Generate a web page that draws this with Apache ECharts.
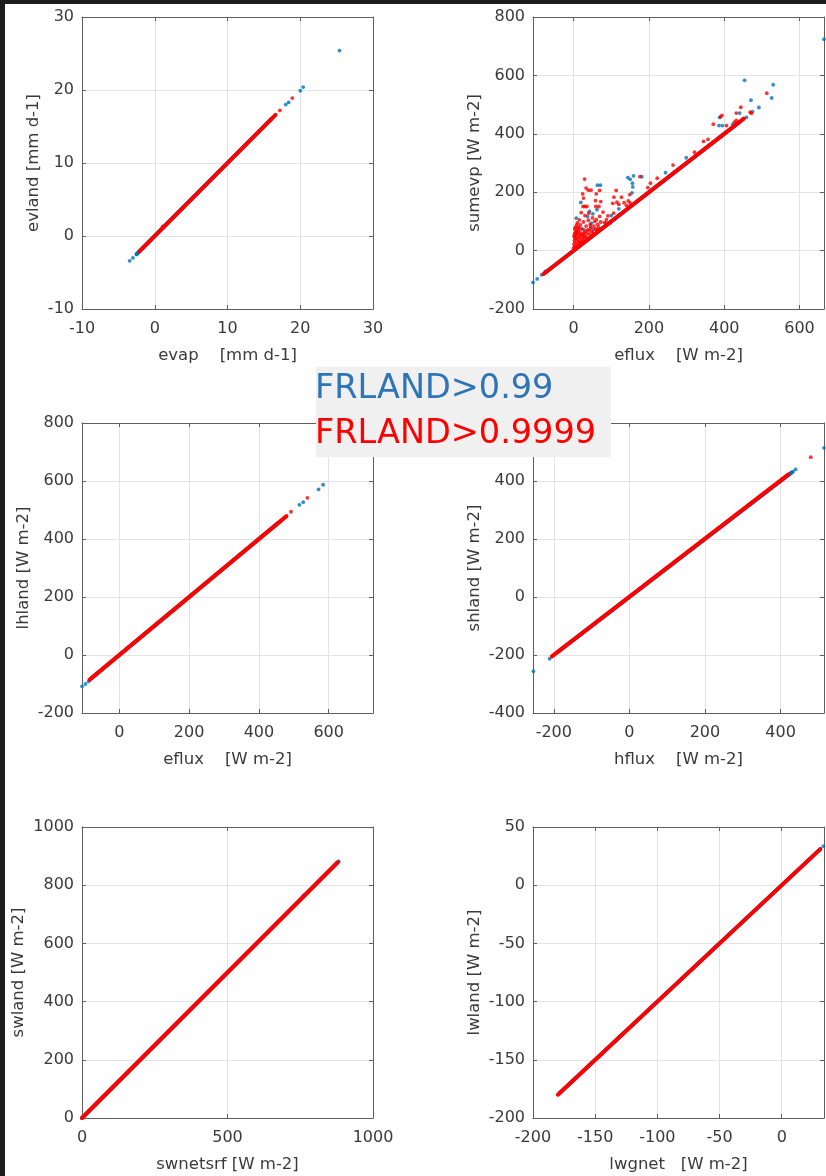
<!DOCTYPE html>
<html><head><meta charset="utf-8">
<script src="https://cdn.jsdelivr.net/npm/echarts@6/dist/echarts.min.js"></script>
<style>html,body{margin:0;padding:0;background:#fff;} #c{width:826px;height:1176px;}</style>
</head><body><div id="c"></div>
<script>
// ---------- data ----------
const seriesNames = ['FRLAND>0.99', 'FRLAND>0.9999'];

// Panel 1: evap vs evland
const p1XLabel = 'evap    [mm d-1]';
const p1YLabel = 'evland [mm d-1]';
const p1XRange = [-10, 30];
const p1YRange = [-10, 30];
const p1XTicks = [-10, 0, 10, 20, 30];
const p1YTicks = [-10, 0, 10, 20, 30];
const p1BlueBand = [[-2.5, -2.5], [16.0, 16.0]];
const p1BluePts = [[25.4, 25.4], [20.0, 19.9], [20.4, 20.4], [18.0, 18.0], [18.4, 18.3], [16.0, 16.0], [-3.45, -3.4], [-3.0, -3.0], [-2.4, -2.4]];
const p1RedBand = [[-2.1, -2.1], [16.6, 16.6]];
const p1RedPts = [[18.9, 18.9], [17.2, 17.2], [1.1, 1.3]];

// Panel 2: eflux vs sumevp
const p2XLabel = 'eflux    [W m-2]';
const p2YLabel = 'sumevp [W m-2]';
const p2XRange = [-108, 665];
const p2YRange = [-200, 800];
const p2XTicks = [0, 200, 400, 600];
const p2YTicks = [-200, 0, 200, 400, 600, 800];
const p2BlueBand = [[-75, -75], [440, 440]];
const p2BluePts = [[-108, -109], [-97, -97], [-85, -83], [-75, -71], [665, 724], [454, 583], [530, 568], [526, 523], [471, 515], [492, 490],
  [441, 471], [475, 476], [388, 456], [459, 456], [386, 428], [395, 428], [423, 433], [299, 318], [244, 267], [159, 256], [144, 250],
  [150, 244], [181, 253], [156, 231], [157, 218], [155, 198], [120, 143], [71, 224], [63, 224], [19, 165], [7, 111], [42, 134], [51, 126],
  [37, 117], [47, 94], [45, 83], [16, 77], [27, 72], [52, 72], [87, 94], [100, 120], [62, 140]];
const p2RedBand = [[-80, -80], [452, 452]];
const p2RedPts = [[29, 245], [264, 293], [222, 248], [204, 231], [197, 216], [176, 253], [113, 206], [149, 192], [107, 183], [127, 183],
  [134, 164], [120, 158], [140, 155], [24, 194], [26, 180], [60, 194], [69, 206], [33, 214], [39, 207], [46, 207], [58, 171], [72, 168],
  [25, 151], [30, 151], [35, 151], [59, 151], [67, 151], [104, 162], [115, 166], [78, 132], [91, 119], [106, 128], [69, 117], [60, 106],
  [87, 106], [96, 94], [145, 170], [150, 163], [513, 539], [444, 491], [432, 471], [469, 474], [472, 470], [394, 463], [390, 458], [371, 433],
  [406, 428], [427, 440], [432, 446], [345, 374], [357, 381], [321, 337],
  [0, 8], [1, 22], [2, 35], [1, 48], [3, 60], [3, 74], [6, 15], [7, 42], [8, 56], [9, 68], [12, 30], [12, 80], [14, 50], [17, 62], [18, 88],
  [20, 36], [22, 74], [24, 56], [26, 98], [28, 44], [31, 66], [33, 84], [36, 58], [39, 104], [41, 72], [44, 90], [48, 66], [50, 112],
  [54, 84], [30, 120], [15, 105], [40, 128], [56, 100], [64, 90], [72, 98], [82, 96], [20, 130], [10, 95],
  [2, 12], [4, 28], [5, 52], [6, 66], [10, 20], [10, 38], [11, 60], [15, 28], [16, 44], [19, 54], [21, 26], [23, 46], [25, 34], [27, 60],
  [29, 52], [34, 46], [37, 70], [43, 56], [46, 78], [52, 60], [58, 74], [62, 70], [66, 80], [5, 80], [8, 88], [13, 72], [2, 54], [4, 44]];

// Panel 3: eflux vs lhland
const p3XLabel = 'eflux    [W m-2]';
const p3YLabel = 'lhland [W m-2]';
const p3XRange = [-107, 727];
const p3YRange = [-200, 800];
const p3XTicks = [0, 200, 400, 600];
const p3YTicks = [-200, 0, 200, 400, 600, 800];
const p3BlueBand = [[-80, -80], [455, 455]];
const p3BluePts = [[584, 587], [571, 571], [527, 527], [516, 518], [-107, -108], [-97, -100], [-88, -91], [-75, -75], [448, 446], [460, 460]];
const p3RedBand = [[-85, -85], [479, 479]];
const p3RedPts = [[539, 542], [492, 494]];

// Panel 4: hflux vs shland
const p4XLabel = 'hflux    [W m-2]';
const p4YLabel = 'shland [W m-2]';
const p4XRange = [-255, 515];
const p4YRange = [-400, 600];
const p4XTicks = [-200, 0, 200, 400];
const p4YTicks = [-400, -200, 0, 200, 400, 600];
const p4BlueBand = [[-190, -190], [430, 430]];
const p4BluePts = [[515, 514], [440, 440], [433, 432], [-254, -256], [-211, -213], [-185, -185]];
const p4RedBand = [[-205, -205], [421, 423]];
const p4RedPts = [[480, 482]];

// Panel 5: swnetsrf vs swland
const p5XLabel = 'swnetsrf [W m-2]';
const p5YLabel = 'swland [W m-2]';
const p5XRange = [0, 1000];
const p5YRange = [0, 1000];
const p5XTicks = [0, 500, 1000];
const p5YTicks = [0, 200, 400, 600, 800, 1000];
const p5BlueBand = [[0, 0], [880, 880]];
const p5BluePts = [[761, 765], [800, 800], [882, 882]];
const p5RedBand = [[0, 0], [878, 878]];
const p5RedPts = [];

// Panel 6: lwgnet vs lwland
const p6XLabel = 'lwgnet   [W m-2]';
const p6YLabel = 'lwland [W m-2]';
const p6XRange = [-200, 34];
const p6YRange = [-200, 50];
const p6XTicks = [-200, -150, -100, -50, 0];
const p6YTicks = [-200, -150, -100, -50, 0, 50];
const p6BlueBand = [[-178, -178], [31, 31]];
const p6BluePts = [[33.5, 33.5]];
const p6RedBand = [[-180, -180], [31, 31]];
const p6RedPts = [];

// ---------- layout / style ----------
const BLUE = '#0072BD', RED = '#FF0000';
const FONT = 'DejaVu Sans';
const TXT = '#3a3a3a', AX = '#5e5e5e', GRIDC = '#e3e3e3';

const panels = [
  {grid: {left: 82, top: 17, width: 291, height: 292}, yGap: 40,
   xl: p1XLabel, yl: p1YLabel, xr: p1XRange, yr: p1YRange, xt: p1XTicks, yt: p1YTicks, bb: p1BlueBand, bp: p1BluePts, rb: p1RedBand, rp: p1RedPts},
  {grid: {left: 533, top: 17, width: 291, height: 292}, yGap: 50,
   xl: p2XLabel, yl: p2YLabel, xr: p2XRange, yr: p2YRange, xt: p2XTicks, yt: p2YTicks, bb: p2BlueBand, bp: p2BluePts, rb: p2RedBand, rp: p2RedPts},
  {grid: {left: 82, top: 423, width: 291, height: 290}, yGap: 50,
   xl: p3XLabel, yl: p3YLabel, xr: p3XRange, yr: p3YRange, xt: p3XTicks, yt: p3YTicks, bb: p3BlueBand, bp: p3BluePts, rb: p3RedBand, rp: p3RedPts},
  {grid: {left: 533, top: 423, width: 291, height: 290}, yGap: 50,
   xl: p4XLabel, yl: p4YLabel, xr: p4XRange, yr: p4YRange, xt: p4XTicks, yt: p4YTicks, bb: p4BlueBand, bp: p4BluePts, rb: p4RedBand, rp: p4RedPts},
  {grid: {left: 82, top: 827, width: 291, height: 291}, yGap: 55,
   xl: p5XLabel, yl: p5YLabel, xr: p5XRange, yr: p5YRange, xt: p5XTicks, yt: p5YTicks, bb: p5BlueBand, bp: p5BluePts, rb: p5RedBand, rp: p5RedPts},
  {grid: {left: 533, top: 827, width: 291, height: 291}, yGap: 50,
   xl: p6XLabel, yl: p6YLabel, xr: p6XRange, yr: p6YRange, xt: p6XTicks, yt: p6YTicks, bb: p6BlueBand, bp: p6BluePts, rb: p6RedBand, rp: p6RedPts}
];

const fmt = v => String(v);
const grids = [], xAxes = [], yAxes = [], series = [];
panels.forEach((p, i) => {
  grids.push(Object.assign({containLabel: false}, p.grid));
  const lineStyle = {color: AX, width: 1};
  const lab = {fontFamily: FONT, fontSize: 16, color: TXT, formatter: fmt};
  xAxes.push({type: 'value', gridIndex: i, position: 'bottom', min: p.xr[0], max: p.xr[1],
    name: p.xl, nameLocation: 'middle', nameGap: 38, nameTextStyle: {fontFamily: FONT, fontSize: 16.5, color: TXT},
    axisLine: {show: true, onZero: false, lineStyle},
    axisTick: {show: true, inside: true, length: 4, customValues: p.xt, lineStyle},
    axisLabel: Object.assign({customValues: p.xt, margin: 12}, lab),
    splitLine: {show: true, lineStyle: {color: GRIDC, width: 1}}});
  xAxes.push({type: 'value', gridIndex: i, position: 'top', min: p.xr[0], max: p.xr[1],
    axisLine: {show: true, onZero: false, lineStyle},
    axisTick: {show: true, inside: true, length: 4, customValues: p.xt, lineStyle},
    axisLabel: {show: false}, splitLine: {show: false}});
  yAxes.push({type: 'value', gridIndex: i, position: 'left', min: p.yr[0], max: p.yr[1],
    name: p.yl, nameLocation: 'middle', nameGap: p.yGap, nameTextStyle: {fontFamily: FONT, fontSize: 16.5, color: TXT},
    axisLine: {show: true, onZero: false, lineStyle},
    axisTick: {show: true, inside: true, length: 4, customValues: p.yt, lineStyle},
    axisLabel: Object.assign({customValues: p.yt, margin: 8}, lab),
    splitLine: {show: true, lineStyle: {color: GRIDC, width: 1}}});
  yAxes.push({type: 'value', gridIndex: i, position: 'right', min: p.yr[0], max: p.yr[1],
    axisLine: {show: true, onZero: false, lineStyle},
    axisTick: {show: true, inside: true, length: 4, customValues: p.yt, lineStyle},
    axisLabel: {show: false}, splitLine: {show: false}});
  const ax = {xAxisIndex: 2 * i, yAxisIndex: 2 * i};
  series.push(Object.assign({type: 'line', name: seriesNames[0], data: p.bb, symbol: 'none', silent: true,
    lineStyle: {color: BLUE, width: 4, cap: 'round'}, z: 2}, ax));
  series.push(Object.assign({type: 'scatter', name: seriesNames[0], data: p.bp, symbol: 'circle', symbolSize: 3.8,
    itemStyle: {color: BLUE}, clip: false, z: 3}, ax));
  series.push(Object.assign({type: 'line', name: seriesNames[1], data: p.rb, symbol: 'none', silent: true,
    lineStyle: {color: RED, width: 4, cap: 'round'}, z: 4}, ax));
  series.push(Object.assign({type: 'scatter', name: seriesNames[1], data: p.rp, symbol: 'circle', symbolSize: 3.8,
    itemStyle: {color: RED}, clip: false, z: 5}, ax));
});

const chart = echarts.init(document.getElementById('c'), null, {renderer: 'canvas', width: 826, height: 1176});
chart.setOption({
  animation: false,
  backgroundColor: '#ffffff',
  grid: grids, xAxis: xAxes, yAxis: yAxes, series,
  graphic: [
    {type: 'rect', z: 100, shape: {x: 0, y: 0, width: 826, height: 4}, style: {fill: '#1c1c1c'}},
    {type: 'rect', z: 100, shape: {x: 0, y: 0, width: 5, height: 1176}, style: {fill: '#1c1c1c'}},
    {type: 'rect', z: 100, shape: {x: 316, y: 367, width: 295, height: 90}, style: {fill: '#f0f0f0'}},
    {type: 'text', z: 101, x: 315, y: 389, style: {text: seriesNames[0], fill: '#2e75b6', font: '33.5px "DejaVu Sans"', verticalAlign: 'middle'}},
    {type: 'text', z: 101, x: 315, y: 434, style: {text: seriesNames[1], fill: '#ff0000', font: '33.5px "DejaVu Sans"', verticalAlign: 'middle'}}
  ]
});
</script></body></html>
